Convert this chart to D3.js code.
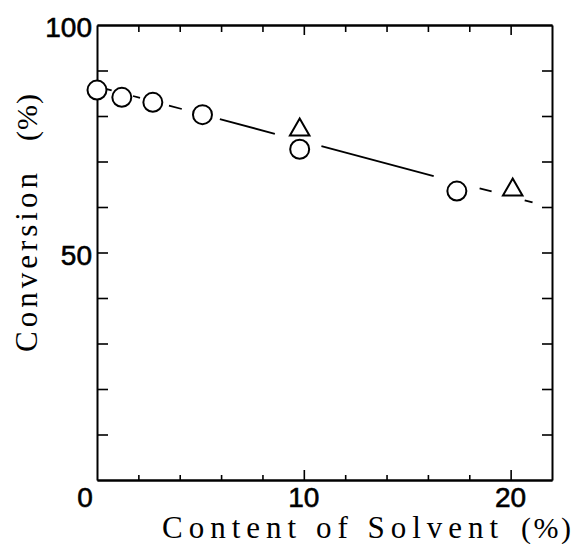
<!DOCTYPE html>
<html>
<head>
<meta charset="utf-8">
<script src="https://cdn.jsdelivr.net/npm/d3@7"></script>
<style>
  html, body { margin: 0; padding: 0; background: #fff; }
  svg { display: block; }
</style>
</head>
<body>
<div id="content"></div>
<script>
// data
const circleX = [0, 1.2, 2.7, 5.1, 9.8, 17.4];
const circleY = [85.7, 84.1, 83.0, 80.3, 72.7, 63.5];
const triangleX = [9.8, 20.1];
const triangleY = [77.4, 64.2];

// fitted line (y = a + b*x) and the x-ranges where it is actually drawn
const fitA = 86.5;
const fitB = -1.21;
const lineSegments = [[0.47, 0.71], [1.74, 2.08], [3.48, 4.1], [5.94, 8.6], [10.85, 16.28], [18.5, 19.08], [20.68, 21.06]];

const xTickLabels = [0, 10, 20];
const yTickLabels = [50, 100];

const width = 575;
const height = 544;
const plotLeft = 97, plotRight = 552, plotTop = 25, plotBottom = 480;

const svg = d3.select('#content')
  .append('svg')
  .attr('width', width)
  .attr('height', height);

const x = d3.scaleLinear().domain([0, 22]).range([plotLeft, plotRight]);
const y = d3.scaleLinear().domain([0, 100]).range([plotBottom, plotTop]);

// axes, ticks pointing inward
const major = [10, 20];
const minorX = d3.range(2, 22, 2).filter(d => d % 10 !== 0);
const yTicks = d3.range(10, 100, 10);

const axisStyle = g => {
  g.select('.domain').attr('stroke', '#000').attr('stroke-width', 2);
  g.selectAll('.tick line').attr('stroke', '#000').attr('stroke-width', 1.6);
};

svg.append('g')
  .attr('transform', `translate(0,${plotBottom})`)
  .call(d3.axisBottom(x).tickValues(major).tickSize(-10).tickSizeOuter(0).tickFormat(''))
  .call(axisStyle);
svg.append('g')
  .attr('transform', `translate(0,${plotBottom})`)
  .call(d3.axisBottom(x).tickValues(minorX).tickSize(-5).tickSizeOuter(0).tickFormat(''))
  .call(axisStyle);
svg.append('g')
  .attr('transform', `translate(0,${plotTop})`)
  .call(d3.axisTop(x).tickValues(major).tickSize(-10).tickSizeOuter(0).tickFormat(''))
  .call(axisStyle);
svg.append('g')
  .attr('transform', `translate(0,${plotTop})`)
  .call(d3.axisTop(x).tickValues(minorX).tickSize(-7).tickSizeOuter(0).tickFormat(''))
  .call(axisStyle);
svg.append('g')
  .attr('transform', `translate(${plotLeft},0)`)
  .call(d3.axisLeft(y).tickValues(yTicks).tickSize(-11).tickSizeOuter(0).tickFormat(''))
  .call(axisStyle);
svg.append('g')
  .attr('transform', `translate(${plotRight},0)`)
  .call(d3.axisRight(y).tickValues(yTicks).tickSize(-10).tickSizeOuter(0).tickFormat(''))
  .call(axisStyle);

// tick labels
svg.append('g')
  .selectAll('text')
  .data(xTickLabels)
  .enter()
  .append('text')
  .attr('x', d => x(d) + (d === 0 ? -12 : 0))
  .attr('y', 507)
  .attr('text-anchor', 'middle')
  .style('font-family', '"Liberation Sans", Arial, sans-serif')
  .style('font-size', '28px')
  .style('stroke', '#000')
  .style('stroke-width', '0.6px')
  .text(d => d);

svg.append('g')
  .selectAll('text')
  .data(yTickLabels)
  .enter()
  .append('text')
  .attr('x', plotLeft - 5)
  .attr('y', d => y(d) + 12)
  .attr('text-anchor', 'end')
  .style('font-family', '"Liberation Sans", Arial, sans-serif')
  .style('font-size', '28px')
  .style('stroke', '#000')
  .style('stroke-width', '0.6px')
  .text(d => d);

// axis titles
const serif = '"Liberation Serif", "Times New Roman", serif';
svg.append('text')
  .attr('x', 162)
  .attr('y', 538)
  .style('font-family', serif)
  .style('font-size', '31px')
  .style('letter-spacing', '6px')
  .text('Content of Solvent');
svg.append('text')
  .attr('x', 521)
  .attr('y', 538)
  .style('font-family', serif)
  .style('font-size', '30px')
  .style('letter-spacing', '2.5px')
  .text('(%)');

svg.append('text')
  .attr('transform', 'translate(37,352) rotate(-90)')
  .style('font-family', serif)
  .style('font-size', '31px')
  .style('letter-spacing', '4px')
  .text('Conversion');
svg.append('text')
  .attr('transform', 'translate(37,141) rotate(-90)')
  .style('font-family', serif)
  .style('font-size', '30px')
  .style('letter-spacing', '1px')
  .text('(%)');

// fitted line, drawn in pieces between the markers
const fit = v => fitA + fitB * v;
svg.append('g')
  .selectAll('line')
  .data(lineSegments)
  .enter()
  .append('line')
  .attr('x1', d => x(d[0]))
  .attr('y1', d => y(fit(d[0])))
  .attr('x2', d => x(d[1]))
  .attr('y2', d => y(fit(d[1])))
  .attr('stroke', '#000')
  .attr('stroke-width', 1.8);

// markers
const circles = circleX.map((v, i) => ({ x: v, y: circleY[i] }));
const triangles = triangleX.map((v, i) => ({ x: v, y: triangleY[i] }));

svg.append('g')
  .selectAll('circle')
  .data(circles)
  .enter()
  .append('circle')
  .attr('cx', d => x(d.x))
  .attr('cy', d => y(d.y))
  .attr('r', 9.5)
  .attr('fill', '#fff')
  .attr('stroke', '#000')
  .attr('stroke-width', 2);

const tri = d3.symbol().type(d3.symbolTriangle).size(165);
svg.append('g')
  .selectAll('path')
  .data(triangles)
  .enter()
  .append('path')
  .attr('d', tri)
  .attr('transform', d => `translate(${x(d.x)},${y(d.y) + 2})`)
  .attr('fill', '#fff')
  .attr('stroke', '#000')
  .attr('stroke-width', 2);
</script>
</body>
</html>
